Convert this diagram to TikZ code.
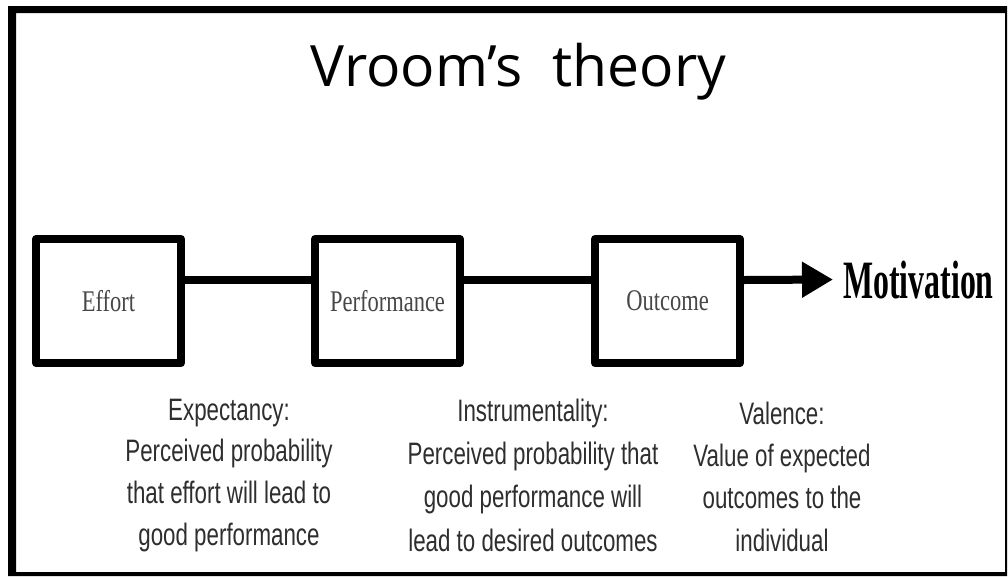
\documentclass[tikz,border=0pt]{standalone}
\usepackage{fontspec}
\usepackage{graphicx}
\setmainfont{Liberation Serif}
\newfontfamily\titlefont{Open Sans}
\newfontfamily\labelfont{Liberation Sans}
\usetikzlibrary{arrows.meta}
\definecolor{labelgray}{gray}{0.18}
\definecolor{boxgray}{gray}{0.28}
\newcommand{\narrowlines}[2]{\scalebox{#1}[1]{\begin{tabular}{@{}c@{}}#2\end{tabular}}}
\begin{document}
\begin{tikzpicture}[x=1pt,y=-1pt,
  stagebox/.style={draw, line width=8pt, line join=round, minimum width=145pt,
    minimum height=124pt, inner sep=0pt, text=boxgray,
    font=\fontsize{30}{36}\selectfont},
  conn/.style={line width=8pt},
  lab/.style={anchor=north, inner sep=0pt, text=labelgray,
    font=\labelfont\fontsize{31}{#1}\selectfont}
]
\useasboundingbox (0,0) rectangle (1008,576);
\fill[white] (0,0) rectangle (1008,576);
% frame
\fill[black, even odd rule] (8,6) rectangle (1007,576) (16,13) rectangle (1005,572);

% title
\node[anchor=base, inner sep=0pt, font=\titlefont\fontsize{57}{68}\selectfont] (title) at (518.5,86) {Vroom’s\ \ theory};

% stages
\node[stagebox] (effort) at (108.5,301) {\scalebox{0.75}[1]{Effort}};
\node[stagebox] (perf) at (387.5,301) {\scalebox{0.75}[1]{Performance}};
\node[stagebox] (outcome) at (667.5,301) {\scalebox{0.75}[1]{Outcome}};

\node[anchor=base west, inner sep=0pt, font=\bfseries\fontsize{54}{60}\selectfont] (motiv) at (843,298) {\scalebox{0.59}[1]{Motivation}};

\draw[conn] ([yshift=21pt]effort.east) -- ([yshift=21pt]perf.west);
\draw[conn] ([yshift=21pt]perf.east) -- ([yshift=21pt]outcome.west);
\draw[conn, -{Triangle[length=31pt,width=34pt]}] ([yshift=21pt]outcome.east) -- ([xshift=-10pt]motiv.west);

% explanations
\node[lab=41.7] (expect) at (229,390.8) {\narrowlines{0.72}{Expectancy:\\Perceived probability\\that effort will lead to\\good performance}};
\node[lab=43.3] (instr) at (533,390.7) {\narrowlines{0.72}{Instrumentality:\\Perceived probability that\\good performance will\\lead to desired outcomes}};
\node[lab=42.3] (valence) at (782,394.4) {\narrowlines{0.72}{Valence:\\Value of expected\\outcomes to the\\individual}};
\end{tikzpicture}
\end{document}
